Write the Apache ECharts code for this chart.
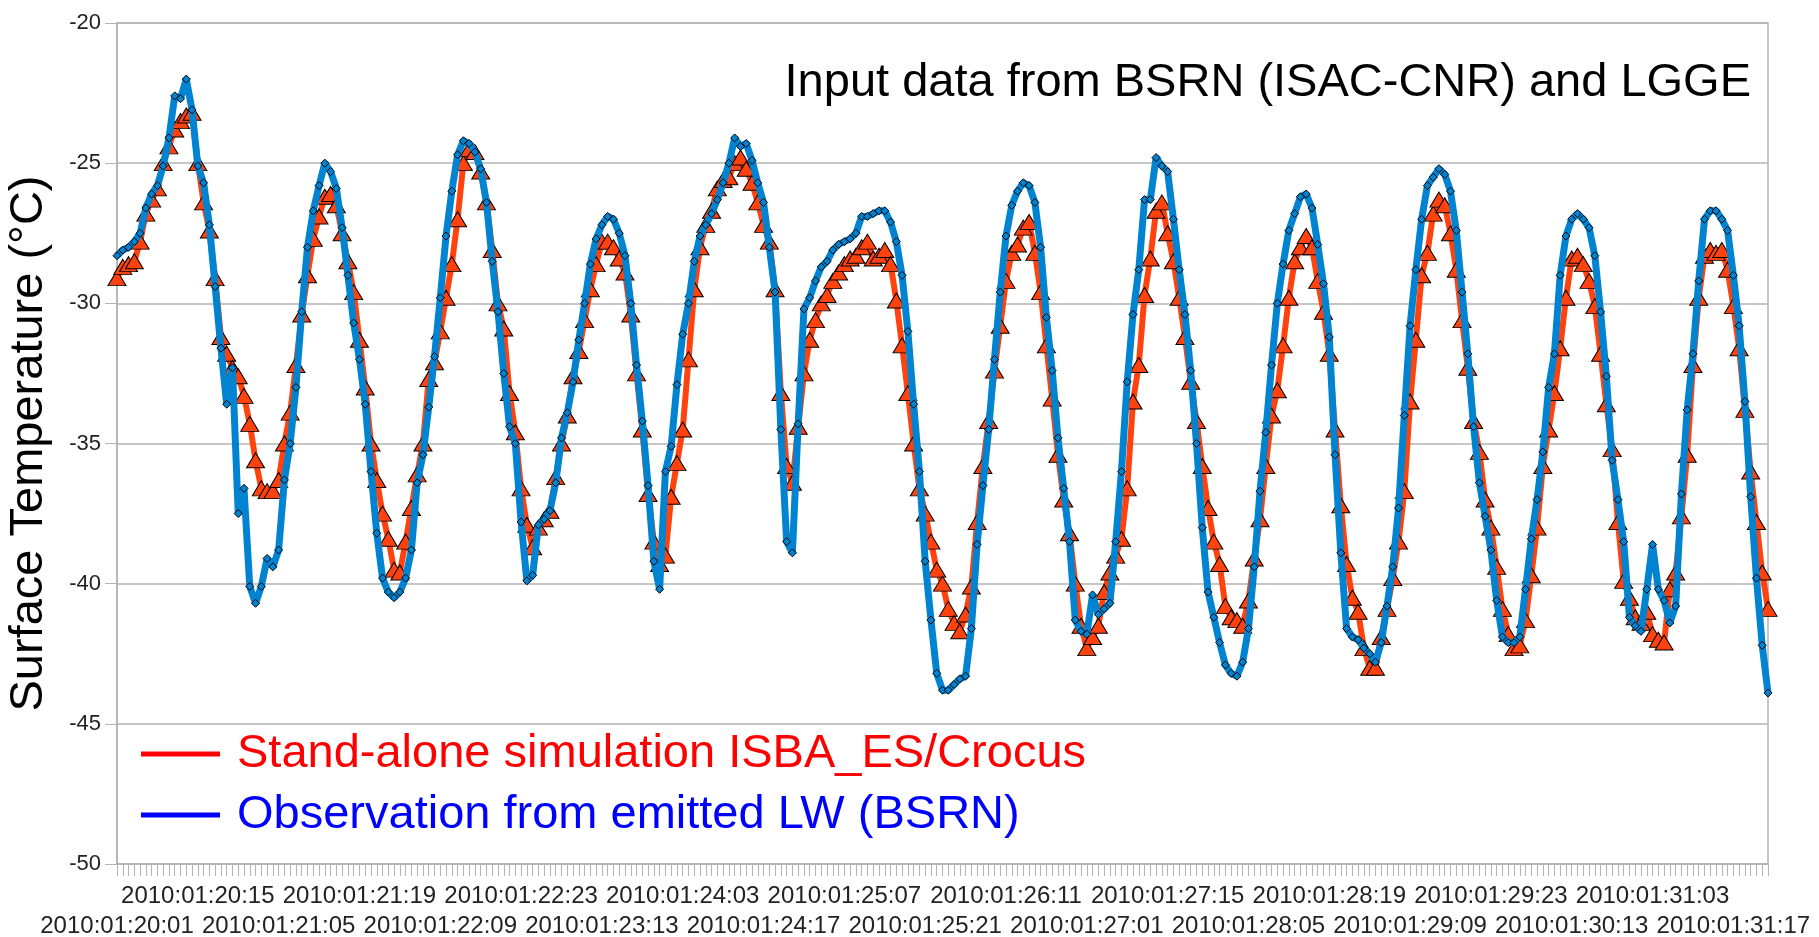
<!DOCTYPE html>
<html>
<head>
<meta charset="utf-8">
<title>Surface temperature Dome C</title>
<script src="https://cdn.jsdelivr.net/npm/echarts@6.0.0/dist/echarts.min.js"></script>
<style>
  html, body { margin: 0; padding: 0; background: #fff; }
  #chart { width: 1819px; height: 937px; }
</style>
</head>
<body>
<div id="chart"></div>
<script>
// hourly values, 2010:01:20:01 -> 2010:01:31:23
var crocusSim = [
    -29.1, -28.7, -28.6, -28.5, -27.8, -26.8, -26.3, -25.9, -25.0, -24.4,
    -23.8, -23.5, -23.3, -23.2, -25.0, -26.4, -27.4, -29.1, -31.2, -31.8,
    -32.3, -32.6, -33.3, -34.3, -35.6, -36.6, -36.7, -36.7, -36.3, -35.0,
    -33.9, -32.2, -30.4, -29.0, -27.7, -26.9, -26.2, -26.1, -26.5, -27.5,
    -28.5, -29.6, -31.3, -33.0, -35.0, -36.3, -37.5, -38.4, -39.5, -39.6,
    -38.5, -37.3, -36.1, -35.0, -32.7, -32.1, -31.0, -29.8, -28.6, -27.0,
    -25.0, -24.5, -24.6, -25.3, -26.4, -28.1, -30.0, -30.9, -33.2, -34.6,
    -36.6, -37.9, -38.7, -38.0, -37.7, -37.4, -36.2, -35.0, -34.0, -32.6,
    -31.7, -30.6, -29.5, -28.6, -27.8, -27.8, -28.0, -28.4, -28.9, -30.4,
    -32.5, -34.5, -36.8, -38.5, -39.3, -39.0, -36.9, -35.7, -34.5, -32.0,
    -29.5, -28.0, -27.2, -26.7, -25.9, -25.6, -25.5, -25.0, -24.8, -25.2,
    -25.7, -26.4, -27.2, -27.8, -29.5, -33.2, -35.8, -36.4, -34.4, -32.5,
    -31.3, -30.6, -30.0, -29.7, -29.2, -28.9, -28.6, -28.4, -28.3, -28.0,
    -27.8, -28.4, -28.3, -28.1, -28.6, -29.9, -31.5, -33.2, -35.0, -36.6,
    -37.5, -38.5, -39.5, -40.0, -40.9, -41.4, -41.7, -41.1, -40.1, -37.8,
    -35.8, -34.2, -32.4, -30.8, -29.2, -28.2, -27.9, -27.3, -27.1, -28.2,
    -29.6, -31.5, -33.4, -35.4, -37.0, -38.2, -40.0, -41.5, -42.3, -41.9,
    -41.5, -40.3, -39.6, -39.0, -38.4, -36.6, -33.5, -32.2, -29.7, -28.4,
    -26.7, -26.4, -27.5, -28.5, -29.8, -31.2, -32.8, -34.2, -35.8, -37.3,
    -38.5, -39.3, -40.8, -41.2, -41.3, -41.5, -40.6, -39.1, -37.7, -35.8,
    -34.0, -33.1, -31.5, -29.8, -28.5, -28.0, -27.6, -28.0, -29.2, -30.3,
    -31.8, -34.5, -37.2, -39.3, -40.5, -41.0, -42.3, -43.0, -43.0, -41.9,
    -40.9, -39.8, -38.5, -36.7, -33.5, -31.3, -29.0, -28.2, -26.8, -26.3,
    -26.5, -27.5, -28.8, -30.6, -32.3, -34.2, -35.3, -37.0, -38.0, -39.4,
    -40.9, -41.8, -42.3, -42.2, -41.3, -39.7, -38.0, -35.8, -34.5, -33.2,
    -31.6, -29.8, -28.4, -28.3, -28.6, -29.2, -30.1, -31.8, -33.6, -35.2,
    -37.8, -39.9, -40.5, -41.2, -41.4, -41.0, -41.8, -42.0, -42.1, -40.2,
    -39.6, -37.6, -35.4, -32.2, -29.8, -28.3, -28.1, -28.2, -28.1, -28.8,
    -30.1, -31.6, -33.8, -36.0, -37.8, -39.6, -40.9
];

var bsrnObs = [
    -28.3, -28.1, -28.0, -27.8, -27.5, -26.6, -26.1, -25.8, -25.1, -24.1,
    -22.6, -22.7, -22.0, -23.1, -25.1, -25.7, -27.2, -29.4, -31.6, -33.6,
    -32.3, -37.5, -36.6, -40.1, -40.7, -40.1, -39.1, -39.4, -38.8, -36.3,
    -35.0, -33.0, -30.3, -28.0, -26.7, -25.8, -25.0, -25.3, -25.9, -27.3,
    -29.0, -30.7, -32.0, -33.6, -36.0, -38.2, -39.8, -40.3, -40.5, -40.3,
    -39.8, -38.8, -36.4, -35.4, -33.7, -31.9, -29.8, -27.6, -26.0, -24.7,
    -24.2, -24.3, -24.6, -25.2, -26.4, -28.5, -30.3, -32.5, -34.4, -35.0,
    -37.8, -39.9, -39.7, -37.9, -37.7, -37.4, -36.4, -34.8, -33.9, -32.8,
    -31.3, -30.0, -28.6, -27.7, -27.2, -26.9, -27.0, -27.5, -28.3, -30.0,
    -32.2, -34.2, -36.5, -39.2, -40.2, -36.0, -35.1, -32.9, -31.1, -30.0,
    -28.5, -27.6, -27.2, -26.8, -26.3, -25.7, -25.0, -24.1, -24.4, -24.3,
    -24.9, -25.7, -26.4, -28.0, -29.6, -34.5, -38.5, -38.9, -34.3, -30.2,
    -29.8, -29.2, -28.7, -28.5, -28.1, -27.9, -27.8, -27.7, -27.5, -26.9,
    -26.9, -26.8, -26.7, -26.7, -27.1, -27.8, -29.0, -31.0, -33.6, -36.0,
    -39.2, -41.3, -43.2, -43.8, -43.8, -43.6, -43.4, -43.3, -41.6, -38.6,
    -36.5, -34.5, -32.0, -29.6, -27.6, -26.5, -26.0, -25.7, -25.8, -26.4,
    -28.0, -30.5, -32.4, -34.8, -36.6, -38.5, -41.3, -41.7, -41.8, -40.4,
    -41.1, -40.9, -40.7, -38.5, -36.0, -32.8, -30.4, -28.8, -26.3, -26.3,
    -24.8, -25.1, -25.3, -27.0, -28.8, -30.4, -32.4, -35.0, -38.0, -40.3,
    -41.2, -42.1, -42.9, -43.2, -43.3, -42.8, -41.6, -39.4, -36.7, -34.6,
    -32.2, -30.0, -28.6, -27.4, -26.8, -26.2, -26.1, -26.6, -27.9, -29.3,
    -31.2, -35.4, -38.9, -41.6, -41.9, -42.0, -42.3, -42.5, -42.8, -42.1,
    -40.8, -39.4, -37.3, -34.0, -30.8, -28.8, -27.0, -25.8, -25.5, -25.2,
    -25.4, -26.0, -27.4, -29.6, -31.8, -34.4, -36.4, -37.6, -38.8, -40.6,
    -41.9, -42.1, -42.1, -41.9, -40.2, -38.4, -37.0, -35.3, -33.0, -31.8,
    -29.0, -27.6, -27.0, -26.8, -27.0, -27.3, -28.3, -30.3, -32.6, -35.6,
    -37.0, -38.5, -41.2, -41.5, -41.7, -40.2, -38.6, -40.2, -40.6, -41.4,
    -40.8, -36.8, -33.8, -31.8, -29.2, -27.0, -26.7, -26.7, -27.0, -27.4,
    -29.0, -30.8, -33.5, -36.9, -39.8, -42.2, -43.9
];

var seriesNames = ['Stand-alone simulation ISBA_ES/Crocus', 'Observation from emitted LW (BSRN)'];
var yTicks = [-50, -45, -40, -35, -30, -25, -20];

// time labels yyyy:mm:dd:hh, one per hour
var timeLabels = [];
function pad2(n) { return n < 10 ? '0' + n : '' + n; }
for (var k = 0; k < bsrnObs.length; k++) {
    var h = 20 * 24 + 1 + k;
    timeLabels.push('2010:01:' + pad2(Math.floor(h / 24)) + ':' + pad2(h % 24));
}

var font = "'Liberation Sans', Arial, sans-serif";
var grey = '#b3b3b3';

// one label every 14 h, staggered on two rows (two category axes over the same grid)
function labelAxis(offsetHours, margin, main) {
    return {
        type: 'category',
        gridIndex: 0,
        position: 'bottom',
        boundaryGap: false,
        data: timeLabels,
        axisLine: { show: main, lineStyle: { color: grey, width: 1.5 } },
        axisTick: { show: main, interval: 0, length: 12, lineStyle: { color: grey } },
        axisLabel: {
            interval: function (idx) { return idx % 28 === offsetHours; },
            margin: margin,
            fontFamily: font,
            fontSize: 24,
            lineHeight: 24,
            color: '#222'
        },
        splitLine: { show: false }
    };
}

var chart = echarts.init(document.getElementById('chart'));

var option = {
    animation: false,
    backgroundColor: '#fff',
    title: {
        text: 'Input data from BSRN (ISAC-CNR) and LGGE',
        right: 68,
        top: 60,
        padding: 0,
        textStyle: { fontFamily: font, fontSize: 47, fontWeight: 'normal', color: '#000' }
    },
    legend: {
        orient: 'vertical',
        left: 141,
        top: 729,
        padding: 0,
        itemWidth: 79,
        itemHeight: 5,
        itemGap: 11,
        icon: 'rect',
        textStyle: { fontFamily: font, fontSize: 47, lineHeight: 50, padding: [0, 0, 0, 12] },
        data: [
            { name: seriesNames[0], itemStyle: { color: '#ff0000', borderWidth: 0 }, textStyle: { color: '#ff0000' } },
            { name: seriesNames[1], itemStyle: { color: '#0000ff', borderWidth: 0 }, textStyle: { color: '#0000ff' } }
        ]
    },
    grid: {
        left: 117,
        right: 51,
        top: 23,
        bottom: 73,
        outerBoundsMode: 'none',
        show: true,
        borderColor: grey,
        borderWidth: 1.5
    },
    xAxis: [
        labelAxis(0, 50, true),
        labelAxis(14, 20, false)
    ],
    yAxis: {
        type: 'value',
        min: yTicks[0],
        max: yTicks[yTicks.length - 1],
        interval: 5,
        name: 'Surface Temperature (°C)',
        nameLocation: 'middle',
        nameGap: 64,
        nameTextStyle: { fontFamily: font, fontSize: 47, color: '#000' },
        axisLine: { show: true, lineStyle: { color: grey, width: 1.5 } },
        axisTick: { show: true, length: 12, lineStyle: { color: grey } },
        axisLabel: { margin: 16, fontFamily: font, fontSize: 22, color: '#222' },
        splitLine: { lineStyle: { color: grey, width: 1.5 } }
    },
    series: [
        {
            name: seriesNames[0],
            type: 'line',
            xAxisIndex: 0,
            data: crocusSim,
            symbol: 'triangle',
            symbolSize: [18, 15],
            showAllSymbol: true,
            lineStyle: { color: '#ff420e', width: 6 },
            itemStyle: { color: '#ff420e', borderColor: '#000', borderWidth: 1 },
            emphasis: { disabled: true },
            z: 2
        },
        {
            name: seriesNames[1],
            type: 'line',
            xAxisIndex: 0,
            data: bsrnObs,
            symbol: 'diamond',
            symbolSize: 8,
            showAllSymbol: true,
            lineStyle: { color: '#0084d1', width: 7 },
            itemStyle: { color: '#0084d1', borderColor: '#000', borderWidth: 1 },
            emphasis: { disabled: true },
            z: 3
        }
    ]
};

chart.setOption(option);
</script>
</body>
</html>
